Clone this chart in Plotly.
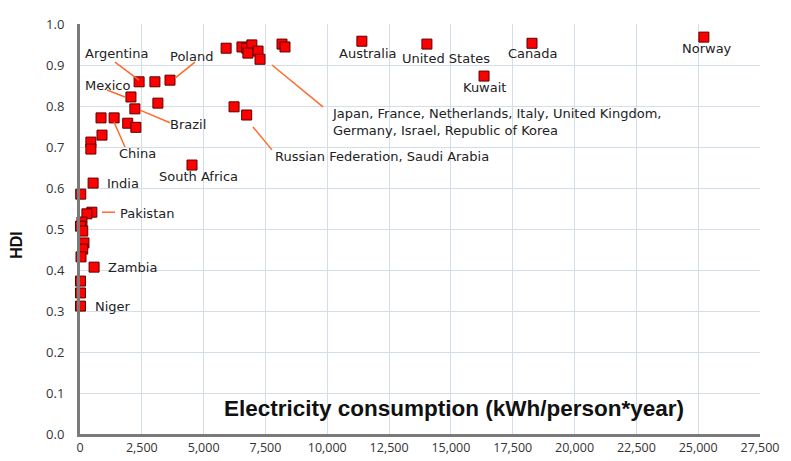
import plotly.graph_objects as go

# Data: electricity consumption (kWh/person*year) vs HDI
elec = [25230, 18280, 14030, 11400, 16340, 8170, 8290, 5910, 6550, 6740, 6950, 6790,
        7200, 7280, 6230, 6740, 2390, 3030, 3640, 2060, 3150, 2220, 850, 1380, 1930,
        2260, 890, 440, 440, 4530, 530, 30, 480, 280, 80, 20, 110, 160, 110, 40, 570,
        20, 20, 20]
hdi = [0.968, 0.953, 0.951, 0.958, 0.873, 0.951, 0.944, 0.941, 0.944, 0.941, 0.949, 0.929,
       0.934, 0.914, 0.798, 0.778, 0.859, 0.859, 0.863, 0.822, 0.807, 0.793, 0.771, 0.771,
       0.758, 0.748, 0.729, 0.712, 0.695, 0.656, 0.612, 0.585, 0.541, 0.537, 0.517, 0.507,
       0.495, 0.466, 0.451, 0.432, 0.407, 0.373, 0.344, 0.312]

x_ticks = [0, 2500, 5000, 7500, 10000, 12500, 15000, 17500, 20000, 22500, 25000, 27500]
x_tick_labels = ["0", "2,500", "5,000", "7,500", "10,000", "12,500", "15,000", "17,500",
                 "20,000", "22,500", "25,000", "27,500"]
y_ticks = [0.0, 0.1, 0.2, 0.3, 0.4, 0.5, 0.6, 0.7, 0.8, 0.9, 1.0]
y_tick_labels = ["0.0", "0.1", "0.2", "0.3", "0.4", "0.5", "0.6", "0.7", "0.8", "0.9", "1.0"]

# Country labels: text, position (data coords), anchor
label_text = ["Argentina", "Poland", "Mexico", "Brazil", "China", "South Africa", "India",
              "Pakistan", "Zambia", "Niger", "Australia", "United States", "Canada",
              "Kuwait", "Norway",
              "Japan, France, Netherlands, Italy, United Kingdom,<br>Germany, Israel, Republic of Korea",
              "Russian Federation, Saudi Arabia"]
label_x = [1496, 4529, 1092, 4367, 2345, 4772, 1739, 2709, 2143, 1334, 11646, 14800, 18318,
           16377, 25354, 10109, 7804]
label_y = [0.929, 0.920, 0.849, 0.754, 0.685, 0.629, 0.612, 0.539, 0.407, 0.312, 0.929,
           0.915, 0.927, 0.844, 0.941, 0.761, 0.676]
label_anchor = ["center"] * 15 + ["left", "left"]

# Leader lines (x0, y0, x1, y1)
leaders = [
    (1415, 0.907, 2386, 0.863),
    (4650, 0.907, 3841, 0.868),
    (1092, 0.839, 1820, 0.822),
    (2426, 0.790, 3639, 0.759),
    (1375, 0.761, 1820, 0.700),
    (7764, 0.900, 9826, 0.798),
    (6996, 0.749, 7764, 0.693),
    (890, 0.541, 1415, 0.541),
]

fig = go.Figure()

for (x0, y0, x1, y1) in leaders:
    fig.add_shape(type="line", x0=x0, y0=y0, x1=x1, y1=y1, xref="x", yref="y",
                  line=dict(color="#ff6a2a", width=1.5), layer="above")

fig.add_trace(go.Scatter(
    x=elec, y=hdi, mode="markers", cliponaxis=False,
    marker=dict(symbol="square", size=10, color="#ff0000",
                line=dict(color="#5a0000", width=1)),
    hoverinfo="x+y", showlegend=False,
))

for t, x, y, a in zip(label_text, label_x, label_y, label_anchor):
    fig.add_annotation(x=x, y=y, xref="x", yref="y", text=t, showarrow=False,
                       xanchor=a, yanchor="middle", align="left",
                       font=dict(family="DejaVu Sans", size=13, color="#222222"))

fig.add_annotation(x=0.55, y=0.063, xref="paper", yref="paper",
                   text="<b>Electricity consumption (kWh/person*year)</b>",
                   showarrow=False, xanchor="center", yanchor="middle",
                   font=dict(family="Liberation Sans", size=22.5, color="#111111"))

fig.add_annotation(x=-0.093, y=0.461, xref="paper", yref="paper",
                   text="<b>HDI</b>", textangle=-90,
                   showarrow=False, xanchor="center", yanchor="middle",
                   font=dict(family="Liberation Sans", size=16, color="#111111"))

fig.update_layout(
    width=791, height=461,
    margin=dict(l=72, r=39, t=16, b=35),
    paper_bgcolor="white", plot_bgcolor="white",
    xaxis=dict(range=[0, 27500], tickvals=x_ticks, ticktext=x_tick_labels,
               automargin=False,
               showgrid=True, gridcolor="#d4dee9", gridwidth=1,
               showline=True, linecolor="#7a7a7a", linewidth=3, zeroline=False,
               ticks="", tickfont=dict(family="Open Sans", size=12.5, color="#333333")),
    yaxis=dict(range=[0, 1.0], tickvals=y_ticks, ticktext=y_tick_labels,
               automargin=False,
               showgrid=True, gridcolor="#d4dee9", gridwidth=1,
               showline=True, linecolor="#7a7a7a", linewidth=3, zeroline=False,
               ticks="", ticklabelstandoff=10,
               tickfont=dict(family="Open Sans", size=13, color="#333333")),
)

fig.write_html("out.html")
